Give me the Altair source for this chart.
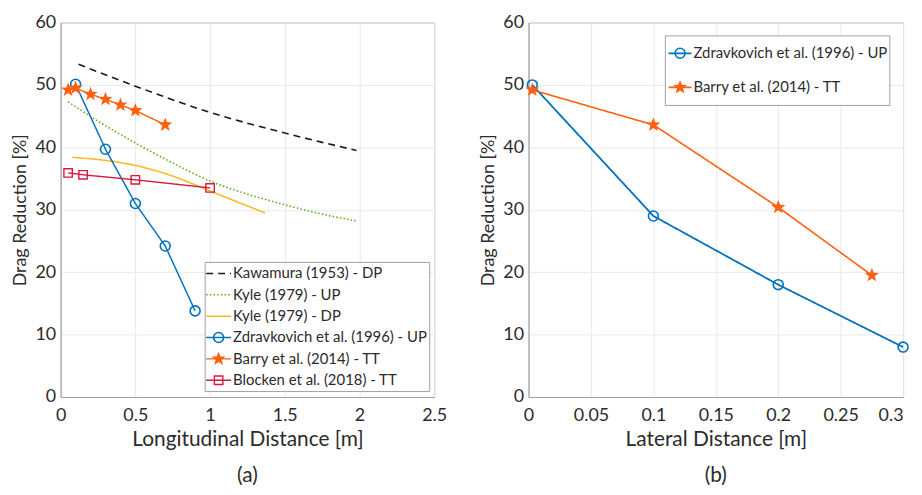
import math
import altair as alt
import pandas as pd

# ---------------- data ----------------
# Panel (a): longitudinal distance
kaw_x = [0.12, 0.5, 1.0, 1.5, 1.98]
kaw_y = [53.3, 49.8, 45.6, 42.3, 39.5]
kyle_up_x = [0.05, 0.25, 0.5, 0.75, 1.0, 1.25, 1.5, 1.75, 1.98]
kyle_up_y = [47.3, 44.2, 40.7, 37.5, 34.6, 32.5, 30.8, 29.3, 28.2]
kyle_dp_x = [0.077, 0.3, 0.5, 0.75, 1.0, 1.367]
kyle_dp_y = [38.4, 37.9, 37.1, 35.4, 33.0, 29.5]
zdr_a_x = [0.1, 0.3, 0.5, 0.7, 0.9]
zdr_a_y = [50.1, 39.7, 31.0, 24.2, 13.8]
barry_a_x = [0.05, 0.1, 0.2, 0.3, 0.4, 0.5, 0.7]
barry_a_y = [49.2, 49.5, 48.5, 47.7, 46.8, 45.9, 43.6]
blocken_x = [0.05, 0.15, 0.5, 1.0]
blocken_y = [35.9, 35.6, 34.8, 33.5]

# Panel (b): lateral distance
zdr_b_x = [0.003, 0.1, 0.2, 0.3]
zdr_b_y = [50.0, 29.0, 18.0, 8.0]
barry_b_x = [0.003, 0.1, 0.2, 0.275]
barry_b_y = [49.2, 43.6, 30.4, 19.5]

names_a = ["Kawamura (1953) - DP", "Kyle (1979) - UP", "Kyle (1979) - DP",
           "Zdravkovich et al. (1996) - UP", "Barry et al. (2014) - TT",
           "Blocken et al. (2018) - TT"]
names_b = ["Zdravkovich et al. (1996) - UP", "Barry et al. (2014) - TT"]

x_ticks_a = [0, 0.5, 1, 1.5, 2, 2.5]
x_ticks_b = [0, 0.05, 0.1, 0.15, 0.2, 0.25, 0.3]
y_ticks = [0, 10, 20, 30, 40, 50, 60]

# ---------------- styles ----------------
FONT = "Lato"
TXT = "#2b2b2b"
GRAYLINE = "#A0A0A0"
BLACK, GREEN, YELLOW = "#1a1a1a", "#5BAA1E", "#FFB81C"
BLUE, ORANGE, RED = "#0072BD", "#FF5F0F", "#D7193F"
COL = dict(zip(names_a, [BLACK, GREEN, YELLOW, BLUE, ORANGE, RED]))
DASH = dict(zip(names_a, [[7, 5], [1.5, 2.2], [1, 0], [1, 0], [1, 0], [1, 0]]))
WID = dict(zip(names_a, [1.6, 1.4, 1.5, 1.8, 1.6, 1.5]))


def star(R, r):
    pts = []
    for i in range(10):
        ang = -math.pi / 2 + i * math.pi / 5
        rad = R if i % 2 == 0 else r
        pts.append((rad * math.cos(ang), rad * math.sin(ang)))
    return "M" + "L".join(f"{x:.3f},{y:.3f}" for x, y in pts) + "Z"


STAR_MARK = star(1.5, 0.62)  # with size=100 -> 5px per unit


def frame(pairs):
    rows = []
    for name, xs, ys in pairs:
        for x, y in zip(xs, ys):
            rows.append({"series": name, "x": x, "y": y})
    return pd.DataFrame(rows)


df_a = frame([
    (names_a[0], kaw_x, kaw_y), (names_a[1], kyle_up_x, kyle_up_y),
    (names_a[2], kyle_dp_x, kyle_dp_y), (names_a[3], zdr_a_x, zdr_a_y),
    (names_a[4], barry_a_x, barry_a_y), (names_a[5], blocken_x, blocken_y),
])
df_b = frame([(names_b[0], zdr_b_x, zdr_b_y), (names_b[1], barry_b_x, barry_b_y)])

smooth = names_a[:3]

# legend box layout inside each plot area (pixels from the plot's top-left)
LEG_A = dict(bx0=145.5, bx1=371.5, by0=241.5, by1=371.5, y0=252.6, step=21.5,
             sx0=146.5, sx1=171.5, tx=173.5)
LEG_B = dict(bx0=137.7, bx1=363.7, by0=13.5, by1=83.5, y0=31.0, step=34.3,
             sx0=141.0, sx1=164.0, tx=166.0)


def marker_layers(base, names, x, y, stroke, fill):
    out = []
    if names_a[3] in names:
        out.append(base.transform_filter(alt.datum.series == names_a[3])
                   .mark_point(shape="circle", size=100, strokeWidth=1.6, fill=None, opacity=1)
                   .encode(x=x, y=y, stroke=stroke))
    if names_a[4] in names:
        out.append(base.transform_filter(alt.datum.series == names_a[4])
                   .mark_point(shape=STAR_MARK, size=100, opacity=1, strokeWidth=0)
                   .encode(x=x, y=y, fill=fill))
    if names_a[5] in names:
        out.append(base.transform_filter(alt.datum.series == names_a[5])
                   .mark_point(shape="square", size=72, strokeWidth=1.4, fill=None, opacity=1)
                   .encode(x=x, y=y, stroke=stroke))
    return out


def panel(df, names, xdom, xticks, xtitle, title, width, g, last_right=False):
    cols = [COL[n] for n in names]
    axis_kw = dict(values=xticks, format="~g", title=xtitle, labelFlush=False)
    if last_right:
        # keep the last tick label inside the page
        axis_kw["labelAlign"] = {"condition": {"test": f"datum.value >= {xdom[1] * 0.99}",
                                               "value": "right"},
                                 "value": "center"}
    x = alt.X("x:Q", scale=alt.Scale(domain=xdom, nice=False, zero=False),
              axis=alt.Axis(**axis_kw))
    y = alt.Y("y:Q", scale=alt.Scale(domain=[0, 60], nice=False),
              axis=alt.Axis(values=y_ticks, title="Drag Reduction [%]"))
    stroke = alt.Stroke("series:N", scale=alt.Scale(domain=names, range=cols), legend=None)
    fill = alt.Fill("series:N", scale=alt.Scale(domain=names, range=cols), legend=None)
    dash = alt.StrokeDash("series:N", scale=alt.Scale(domain=names, range=[DASH[n] for n in names]), legend=None)
    sw = alt.StrokeWidth("series:N", scale=alt.Scale(domain=names, range=[WID[n] for n in names]), legend=None)
    base = alt.Chart(df)
    layers = []
    sm = [n for n in names if n in smooth]
    ln = [n for n in names if n not in smooth]
    if sm:
        layers.append(base.transform_filter(alt.FieldOneOfPredicate("series", sm))
                      .mark_line(interpolate="monotone")
                      .encode(x=x, y=y, stroke=stroke, strokeDash=dash, strokeWidth=sw))
    layers.append(base.transform_filter(alt.FieldOneOfPredicate("series", ln))
                  .mark_line().encode(x=x, y=y, stroke=stroke, strokeDash=dash, strokeWidth=sw))
    layers += marker_layers(base, names, x, y, stroke, fill)

    # ---- legend (drawn from the same colour / dash scales) ----
    box = alt.Chart(pd.DataFrame({"k": [0]})).mark_rect(
        fill="white", stroke=GRAYLINE, strokeWidth=1).encode(
        x=alt.value(g["bx0"]), x2=alt.value(g["bx1"]),
        y=alt.value(g["by0"]), y2=alt.value(g["by1"]))
    layers.append(box)
    ldf = pd.DataFrame({"series": names, "row": list(range(len(names)))})
    lb = alt.Chart(ldf).transform_calculate(ly=f"{g['y0']} + {g['step']} * datum.row")
    ly = alt.Y("ly:Q", scale=None)
    layers.append(lb.mark_rule().encode(
        x=alt.value(g["sx0"]), x2=alt.value(g["sx1"]), y=ly,
        stroke=stroke, strokeDash=dash, strokeWidth=sw))
    lx = alt.value((g["sx0"] + g["sx1"]) / 2)
    layers += marker_layers(lb, names, lx, ly, stroke, fill)
    layers.append(lb.mark_text(align="left", baseline="middle", font=FONT,
                               fontSize=15, color=TXT).encode(
        x=alt.value(g["tx"]), y=ly, text="series:N"))

    return alt.layer(*layers).properties(
        width=width, height=377,
        title=alt.TitleParams(title, orient="bottom", offset=16, fontSize=21,
                              font=FONT, fontWeight="normal", color=TXT))


pa = panel(df_a, names_a, [0, 2.5], x_ticks_a, "Longitudinal Distance [m]", "(a)", 376, LEG_A)
pb = panel(df_b, names_b, [0, 0.3], x_ticks_b, "Lateral Distance [m]", "(b)", 377, LEG_B,
           last_right=True)

chart = alt.hconcat(pa, pb, spacing=31).resolve_scale(
    stroke="independent", fill="independent",
    strokeDash="independent", strokeWidth="independent",
    x="independent", y="independent"
).configure(
    padding={"left": 3, "top": 3, "right": 2, "bottom": 0},
    font=FONT,
).configure_view(
    stroke=GRAYLINE, strokeWidth=1
).configure_axis(
    domainColor=GRAYLINE, gridColor="#E8E8E8", gridWidth=1, ticks=False,
    labelFont=FONT, labelFontSize=18, labelColor=TXT,
    titleFont=FONT, titleFontWeight="normal", titleColor=TXT,
).configure_axisX(labelPadding=10, titlePadding=4, titleFontSize=21
).configure_axisY(titlePadding=5, labelPadding=5, titleFontSize=18)

chart.save("out.html", embed_options={"renderer": "svg", "actions": False})
